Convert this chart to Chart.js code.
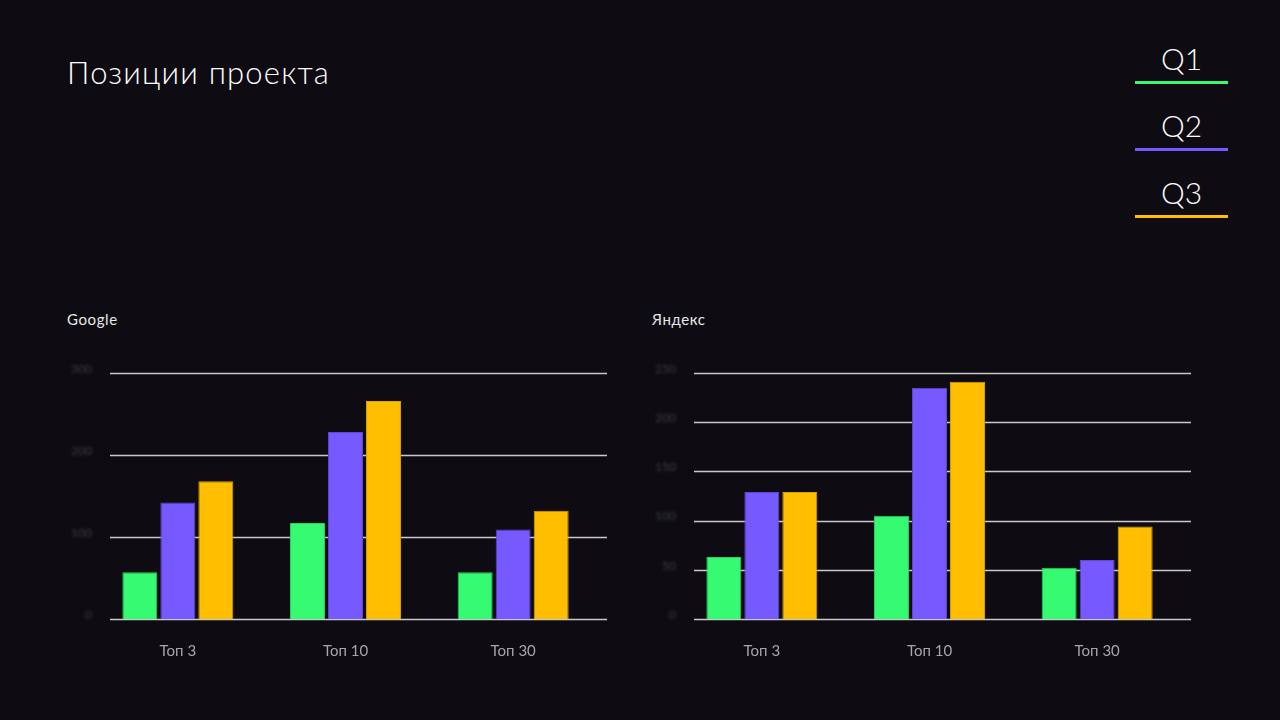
<!DOCTYPE html>
<html>
<head>
<meta charset="utf-8">
<script src="https://cdn.jsdelivr.net/npm/chart.js@4"></script>
<style>
  html, body { margin: 0; padding: 0; background: #0e0c12; }
  body { width: 1280px; height: 720px; position: relative; overflow: hidden; font-family: Lato, sans-serif; color: #fff; }
  .title { position: absolute; left: 67px; top: 53px; font-size: 31px; font-weight: 300; letter-spacing: 1.2px; }
  .sub { position: absolute; top: 310px; font-size: 15px; font-weight: 400; letter-spacing: 0.6px; color: #e8e8e8; }
  .box { position: absolute; top: 355px; width: 580px; height: 328px; }
  #legend { position: absolute; left: 1135px; top: 40px; width: 93px; }
  .item { height: 67px; text-align: center; }
  .item span { display: block; font-size: 30px; font-weight: 300; line-height: 36px; }
  .item i { display: block; height: 3px; margin-top: 5px; }
</style>
</head>
<body>
<div class="title">Позиции проекта</div>
<div id="legend"></div>
<div class="sub" style="left:67px">Google</div>
<div class="sub" style="left:652px">Яндекс</div>
<div class="box" style="left:40px"><canvas id="googleChart"></canvas></div>
<div class="box" style="left:630px"><canvas id="yandexChart"></canvas></div>
<script>
const categories = ['Топ 3', 'Топ 10', 'Топ 30'];
const seriesNames = ['Q1', 'Q2', 'Q3'];
const seriesColors = ['#36fb72', '#7659ff', '#ffbf00'];
const seriesBorders = ['#2bd05c', '#5f46d8', '#d9a200'];

const googleQ1 = [57, 117, 57];
const googleQ2 = [142, 228, 109];
const googleQ3 = [168, 266, 132];

const yandexQ1 = [63, 105, 52];
const yandexQ2 = [129, 235, 60];
const yandexQ3 = [129, 241, 94];

const googleTicks = { max: 300, step: 100 };
const yandexTicks = { max: 250, step: 50 };

// legend
const legend = document.getElementById('legend');
seriesNames.forEach((name, i) => {
  const el = document.createElement('div');
  el.className = 'item';
  el.innerHTML = '<span>' + name + '</span><i style="background:' + seriesColors[i] + '"></i>';
  legend.appendChild(el);
});

// grid lines + blurred y labels, drawn from the y scale
const gridPlugin = {
  id: 'grid',
  beforeDatasetsDraw(chart) {
    const { ctx, chartArea } = chart;
    const y = chart.scales.y;
    ctx.save();
    ctx.strokeStyle = '#c9c9c9';
    ctx.lineWidth = 1.5;
    y.ticks.forEach(t => {
      const py = Math.round(y.getPixelForValue(t.value)) + 0.5;
      ctx.beginPath();
      ctx.moveTo(chartArea.left + 16, py);
      ctx.lineTo(chartArea.right + 10, py);
      ctx.stroke();
    });
    ctx.filter = 'blur(1.5px)';
    ctx.fillStyle = '#3e3e44';
    ctx.font = '12px Lato';
    ctx.textAlign = 'right';
    ctx.textBaseline = 'middle';
    y.ticks.forEach(t => {
      ctx.fillText(String(t.value), chartArea.left - 2, y.getPixelForValue(t.value) - 4);
    });
    ctx.restore();
  }
};

function makeChart(id, q1, q2, q3, ticks, padLeft, padRight) {
  const data = [q1, q2, q3];
  new Chart(document.getElementById(id), {
    type: 'bar',
    data: {
      labels: categories,
      datasets: seriesNames.map((name, i) => ({
        label: name,
        data: data[i],
        backgroundColor: seriesColors[i],
        borderColor: seriesBorders[i],
        borderWidth: 1,
        categoryPercentage: 0.68,
        barPercentage: 0.92
      }))
    },
    options: {
      responsive: false,
      animation: false,
      devicePixelRatio: 1,
      layout: { padding: { left: padLeft, right: padRight, top: 18, bottom: 8 } },
      plugins: { legend: { display: false }, tooltip: { enabled: false } },
      scales: {
        x: {
          grid: { display: false },
          border: { display: false },
          ticks: { color: '#a6a6a6', font: { family: 'Lato', size: 15 }, padding: 15 }
        },
        y: {
          display: false,
          min: 0,
          max: ticks.max,
          ticks: { stepSize: ticks.step }
        }
      }
    },
    plugins: [gridPlugin]
  });
}

['googleChart', 'yandexChart'].forEach(id => {
  document.getElementById(id).width = 580;
  document.getElementById(id).height = 328;
});

makeChart('googleChart', googleQ1, googleQ2, googleQ3, googleTicks, 54, 23);
makeChart('yandexChart', yandexQ1, yandexQ2, yandexQ3, yandexTicks, 48, 29);
</script>
</body>
</html>
